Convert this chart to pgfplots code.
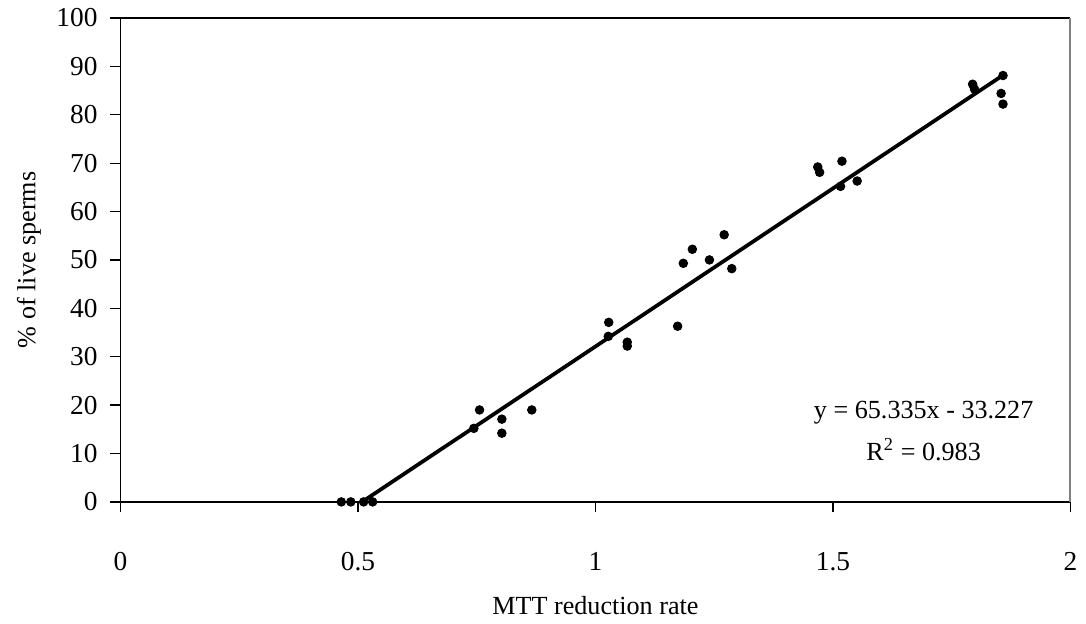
\documentclass[border=0pt]{standalone}
\usepackage{fontspec}
\setmainfont{Liberation Serif}
\usepackage{pgfplots}
\pgfplotsset{compat=1.18}

\begin{document}
\fontsize{10.5}{12.6}\selectfont
\begin{tikzpicture}
\begin{axis}[
    scale only axis,
    width=381.8pt, height=194.5pt,
    xmin=0, xmax=2, ymin=0, ymax=100,
    xtick={0,0.5,1,1.5,2},
    xticklabels={0,0.5,1,1.5,2},
    ytick={0,10,...,100},
    axis x line*=bottom, axis y line*=left,
    axis line style={line width=0.5pt},
    tick align=outside,
    major tick length=4pt,
    tick style={black, line width=0.5pt},
    /pgf/number format/assume math mode=true,
    tick label style={font=\fontsize{11}{13}\selectfont},
    xticklabel style={yshift=-12.5pt},
    yticklabel style={xshift=-1.5pt},
    xlabel={MTT reduction rate},
    ylabel={\% of live sperms},
    xlabel style={yshift=-3pt},
    ylabel style={yshift=-1pt},
    clip=false,
]
% observations
\addplot[only marks, mark=*, mark size=1.7pt, black] coordinates {
    (0.465,0) (0.485,0) (0.512,0) (0.531,0)
    (0.756,19.0) (0.744,15.2) (0.803,17.1) (0.803,14.2) (0.866,19.0)
    (1.028,37.1) (1.027,34.2) (1.067,33.0) (1.067,32.2)
    (1.173,36.3) (1.185,49.3) (1.204,52.2) (1.240,50.0) (1.271,55.2) (1.287,48.2)
    (1.468,69.2) (1.472,68.1) (1.519,70.4) (1.516,65.2) (1.551,66.3)
    (1.794,86.3) (1.798,85.3) (1.858,88.1) (1.854,84.4) (1.858,82.2)
};
% linear trend, y = 65.335x - 33.227
\addplot[black, line width=1.5pt] coordinates {(0.5086,0) (1.858,88.17)};

\draw[black, line width=0.5pt] (rel axis cs:0,1) -- (rel axis cs:1,1);
\draw[gray, line width=0.8pt] (rel axis cs:1,0) -- (rel axis cs:1,1);

\node[align=center, font=\fontsize{10.5}{16.8}\selectfont]
    at (axis cs:1.691,14.6) {y = 65.335x - 33.227\\R\textsuperscript{2} = 0.983};

\path (rel axis cs:0,0) ++(-48.4pt,-44.4pt) (rel axis cs:1,1) ++(4.2pt,7.1pt);
\end{axis}
\end{tikzpicture}
\end{document}
